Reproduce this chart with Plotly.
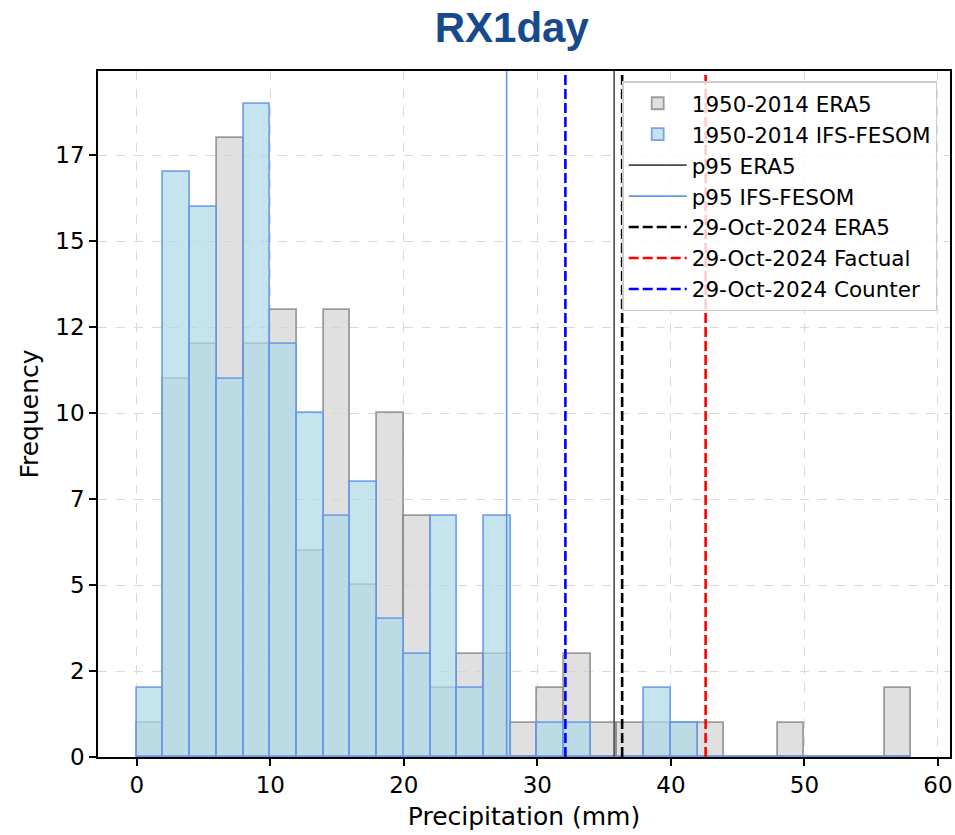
import plotly.graph_objects as go

# ---- data ----
bin_width = 2
bin_centers = [1, 3, 5, 7, 9, 11, 13, 15, 17, 19, 21, 23, 25, 27, 29,
               31, 33, 35, 37, 39, 41, 43, 45, 47, 49, 51, 53, 55, 57]
era5_counts = [1, 11, 12, 18, 12, 13, 6, 13, 5, 10, 7, 2, 3, 3, 1,
               2, 3, 1, 1, 1, 1, 1, 0, 0, 1, 0, 0, 0, 2]
ifs_counts = [2, 17, 16, 11, 19, 12, 10, 7, 8, 4, 3, 7, 2, 7, 0,
              1, 1, 0, 0, 2, 1, 0, 0, 0, 0, 0, 0, 0, 0]

p95_era5 = 35.75
p95_ifs = 27.7
event_era5 = 36.35
event_factual = 42.6
event_counter = 32.1

y_tickvals = [0, 2.5, 5, 7.5, 10, 12.5, 15, 17.5]
y_ticktext = ["0", "2", "5", "7", "10", "12", "15", "17"]
x_tickvals = [0, 10, 20, 30, 40, 50, 60]

y_max = 19.95
x_range = [-2.9, 60.9]

FONT = "DejaVu Sans"
W, H = 955, 835

fig = go.Figure()

fig.add_trace(go.Bar(
    x=bin_centers, y=era5_counts, width=bin_width,
    name="1950-2014 ERA5",
    marker=dict(color="rgba(211,211,211,0.7)",
                line=dict(color="rgba(128,128,128,0.75)", width=1.8)),
))
fig.add_trace(go.Bar(
    x=bin_centers, y=ifs_counts, width=bin_width,
    name="1950-2014 IFS-FESOM",
    marker=dict(color="rgba(173,216,230,0.7)",
                line=dict(color="rgba(100,149,237,0.85)", width=1.8)),
))

vlines = [
    (p95_era5, "p95 ERA5", "#4a4a4a", "solid", 1.6),
    (p95_ifs, "p95 IFS-FESOM", "#6495ED", "solid", 1.6),
    (event_era5, "29-Oct-2024 ERA5", "#000000", "10px,4px", 2.6),
    (event_factual, "29-Oct-2024 Factual", "#ff0000", "10px,4px", 2.6),
    (event_counter, "29-Oct-2024 Counter", "#0000ff", "10px,4px", 2.6),
]
for xv, name, color, dash, w in vlines:
    fig.add_trace(go.Scatter(
        x=[xv, xv], y=[0, y_max], mode="lines", name=name,
        line=dict(color=color, dash=dash, width=w),
        hoverinfo="skip",
    ))

fig.update_layout(
    width=W, height=H,
    barmode="overlay",
    bargap=0,
    paper_bgcolor="white",
    plot_bgcolor="white",
    margin=dict(l=98, r=5, t=71, b=78, autoexpand=False),
    font=dict(family=FONT, size=23, color="black"),
    title=dict(
        text="<b>RX1day</b>",
        font=dict(family="Liberation Sans", size=42, color="#174a8c"),
        x=0.4857, xref="paper", xanchor="center",
        y=1 - 27 / H, yref="container", yanchor="middle",
    ),
    legend=dict(
        x=0.985, xanchor="right", y=0.985, yanchor="top",
        bgcolor="rgba(255,255,255,0.8)",
        bordercolor="#cccccc", borderwidth=1.5,
        font=dict(family=FONT, size=21.5, color="black"),
        itemwidth=58,
        traceorder="normal",
    ),
    showlegend=True,
)

fig.update_xaxes(
    range=x_range,
    tickvals=x_tickvals,
    ticks="outside", ticklen=7, tickwidth=1.5, tickcolor="black",
    showline=True, linecolor="black", linewidth=1.5, mirror=True,
    showgrid=True, gridcolor="#d9d9d9", griddash="dash", gridwidth=1,
    zeroline=False, layer="above traces",
    tickfont=dict(family=FONT, size=23),
    title=dict(text="Precipitation (mm)", font=dict(family=FONT, size=25), standoff=10),
)
fig.update_yaxes(
    range=[0, y_max],
    tickvals=y_tickvals, ticktext=y_ticktext,
    ticks="outside", ticklen=7, tickwidth=1.5, tickcolor="black",
    showline=True, linecolor="black", linewidth=1.5, mirror=True,
    showgrid=True, gridcolor="#d9d9d9", griddash="dash", gridwidth=1,
    zeroline=False, layer="above traces",
    tickfont=dict(family=FONT, size=23),
    title=dict(text="Frequency", font=dict(family=FONT, size=25), standoff=10),
)

fig.write_html(
    "out.html",
    config={"displayModeBar": False},
    post_script="document.body.style.margin='0px';document.body.style.overflow='hidden';",
)
